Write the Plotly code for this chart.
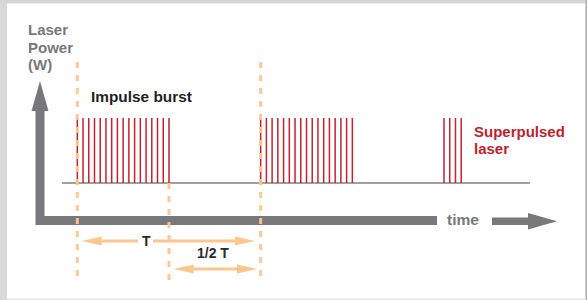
import plotly.graph_objects as go

# ---------------- data ----------------
# pulse times in units of T/32 (one period T = 32 units)
burst_1_times = [0, 1, 2, 3, 4, 5, 6, 7, 8, 9, 10, 11, 12, 13, 14, 15, 16]
burst_2_times = [32, 33, 34, 35, 36, 37, 38, 39, 40, 41, 42, 43, 44, 45, 46, 47, 48]
burst_3_times = [64, 65, 66, 67]
pulse_power = 1.0
baseline_span = [-2.67, 79.0]
period_marks = [0, 16, 32]          # burst start, burst end (T/2), next burst (T)
span_labels = ["T", "1/2 T"]
span_from = [0, 16]
span_to = [32, 32]
span_label_at = [12, 23.6]

# ---------------- layout constants ----------------
W, H = 587, 300
X0_PX, PX_PER_UNIT = 77.3, 5.73
Y0_PX, PX_PER_POWER = 183.0, 65.0

RED = "#c8202f"
ORANGE = "#fdc68c"
GRAY = "#78777b"
FONT = "Liberation Sans, Arial, sans-serif"


def ux(px):  # pixel length -> time units
    return px / PX_PER_UNIT


def yp(py):  # pixel row -> power units
    return (Y0_PX - py) / PX_PER_POWER


def P(x, y):  # pixel -> paper string
    return f"{x / W:.5f},{1 - y / H:.5f}"


fig = go.Figure()

# baseline
fig.add_trace(go.Scatter(x=baseline_span, y=[0, 0], mode="lines",
                         line=dict(color="#808080", width=1.6),
                         hoverinfo="skip", showlegend=False))

# pulses
px_, py_ = [], []
for t in burst_1_times + burst_2_times + burst_3_times:
    px_ += [t, t, None]
    py_ += [0, pulse_power, None]
fig.add_trace(go.Scatter(x=px_, y=py_, mode="lines",
                         line=dict(color=RED, width=1.5),
                         hoverinfo="skip", showlegend=False))

# dashed period marks
for i, t in enumerate(period_marks):
    top = yp(183) if i == 1 else yp(62)
    fig.add_trace(go.Scatter(x=[t, t], y=[top, yp(281)], mode="lines",
                             line=dict(color=ORANGE, width=3, dash="6px,7px"),
                             opacity=0.95, hoverinfo="skip", showlegend=False))

shapes = []
# frame
shapes.append(dict(type="rect", xref="paper", yref="paper", x0=0, x1=7 / W, y0=0, y1=1,
                   fillcolor="#d9d9d9", line_width=0, layer="below"))
shapes.append(dict(type="rect", xref="paper", yref="paper", x0=0, x1=1, y0=1 - 3.5 / H, y1=1,
                   fillcolor="#d6d6d6", line_width=0, layer="below"))
shapes.append(dict(type="rect", xref="paper", yref="paper", x0=585.5 / W, x1=1, y0=0, y1=1,
                   fillcolor="#a9a9a9", line_width=0, layer="below"))
shapes.append(dict(type="rect", xref="paper", yref="paper", x0=7 / W, x1=585.5 / W, y0=0, y1=1.5 / H,
                   fillcolor="#e3e3e3", line_width=0, layer="below"))

# gray axes (L shape + arrows)
shapes.append(dict(type="path", xref="paper", yref="paper", layer="below",
                   path=f"M{P(35.5, 225)} L{P(35.5, 110)} L{P(44.5, 110)} L{P(44.5, 216)} "
                        f"L{P(437, 216)} L{P(437, 225)} Z",
                   fillcolor=GRAY, line_width=0))
shapes.append(dict(type="path", xref="paper", yref="paper", layer="below",
                   path=f"M{P(40, 81)} L{P(48.5, 111)} L{P(31.5, 111)} Z",
                   fillcolor=GRAY, line_width=0))
shapes.append(dict(type="path", xref="paper", yref="paper", layer="below",
                   path=f"M{P(492, 217.5)} L{P(528, 217.5)} L{P(528, 213)} L{P(557, 221.3)} "
                        f"L{P(528, 229.5)} L{P(528, 225)} L{P(492, 225)} Z",
                   fillcolor=GRAY, line_width=0))

# orange span arrows
HEAD_L, HEAD_H = 20, 4.6
span_rows = [241, 269]
span_tip_pad = [(4.4, 5.7), (4.7, 3.7)]
span_gaps = [(8, 7), None]
label_rows = [241, 253]
label_sizes = [14, 14]
for k in range(2):
    yrow = span_rows[k]
    xa = span_from[k] + ux(span_tip_pad[k][0])
    xb = span_to[k] - ux(span_tip_pad[k][1])
    ym, yt, yb = yp(yrow), yp(yrow - HEAD_H), yp(yrow + HEAD_H)
    # heads
    shapes.append(dict(type="path", xref="x", yref="y", fillcolor=ORANGE, line_width=0,
                       path=f"M{xa},{ym} L{xa + ux(HEAD_L)},{yt} L{xa + ux(HEAD_L)},{yb} Z"))
    shapes.append(dict(type="path", xref="x", yref="y", fillcolor=ORANGE, line_width=0,
                       path=f"M{xb},{ym} L{xb - ux(HEAD_L)},{yt} L{xb - ux(HEAD_L)},{yb} Z"))
    lab = span_label_at[k]
    if span_gaps[k]:
        segs = [(xa + ux(HEAD_L), lab - ux(span_gaps[k][0])),
                (lab + ux(span_gaps[k][1]), xb - ux(HEAD_L))]
    else:
        segs = [(xa + ux(HEAD_L), xb - ux(HEAD_L))]
    for s0, s1 in segs:
        shapes.append(dict(type="line", xref="x", yref="y", x0=s0, x1=s1, y0=ym, y1=ym,
                           line=dict(color=ORANGE, width=3)))

annotations = []
for k in range(2):
    annotations.append(dict(x=span_label_at[k], y=yp(label_rows[k]), xref="x", yref="y",
                            text=f"<b>{span_labels[k]}</b>", showarrow=False,
                            xanchor="center", yanchor="middle",
                            font=dict(family=FONT, size=label_sizes[k], color="#2a2a2a")))


def txt(x, y, s, size, color, anchor="left"):
    annotations.append(dict(x=x / W, y=1 - y / H, xref="paper", yref="paper",
                            text=f"<b>{s}</b>", showarrow=False, xanchor=anchor,
                            yanchor="middle", font=dict(family=FONT, size=size, color=color)))


txt(25.5, 30, "Laser", 15, GRAY)
txt(25.5, 47, "Power", 15, GRAY)
txt(25.5, 64, "(W)", 15, GRAY)
txt(88.5, 96, "Impulse burst", 15.4, "#231f20")
txt(471.5, 131, "Superpulsed", 15, "#c41e2e")
txt(471.5, 148.5, "laser", 15, "#c41e2e")
txt(463, 220, "time", 15.5, GRAY, anchor="center")

fig.update_layout(
    width=W, height=H,
    margin=dict(l=0, r=0, t=0, b=0),
    paper_bgcolor="white", plot_bgcolor="white",
    xaxis=dict(range=[(0 - X0_PX) / PX_PER_UNIT, (W - X0_PX) / PX_PER_UNIT],
               visible=False, fixedrange=True),
    yaxis=dict(range=[(Y0_PX - H) / PX_PER_POWER, Y0_PX / PX_PER_POWER],
               visible=False, fixedrange=True),
    shapes=shapes,
    annotations=annotations,
    showlegend=False,
)

fig.write_html("out.html", config={"displayModeBar": False},
               post_script="document.body.style.margin='0';document.body.style.overflow='hidden';")
